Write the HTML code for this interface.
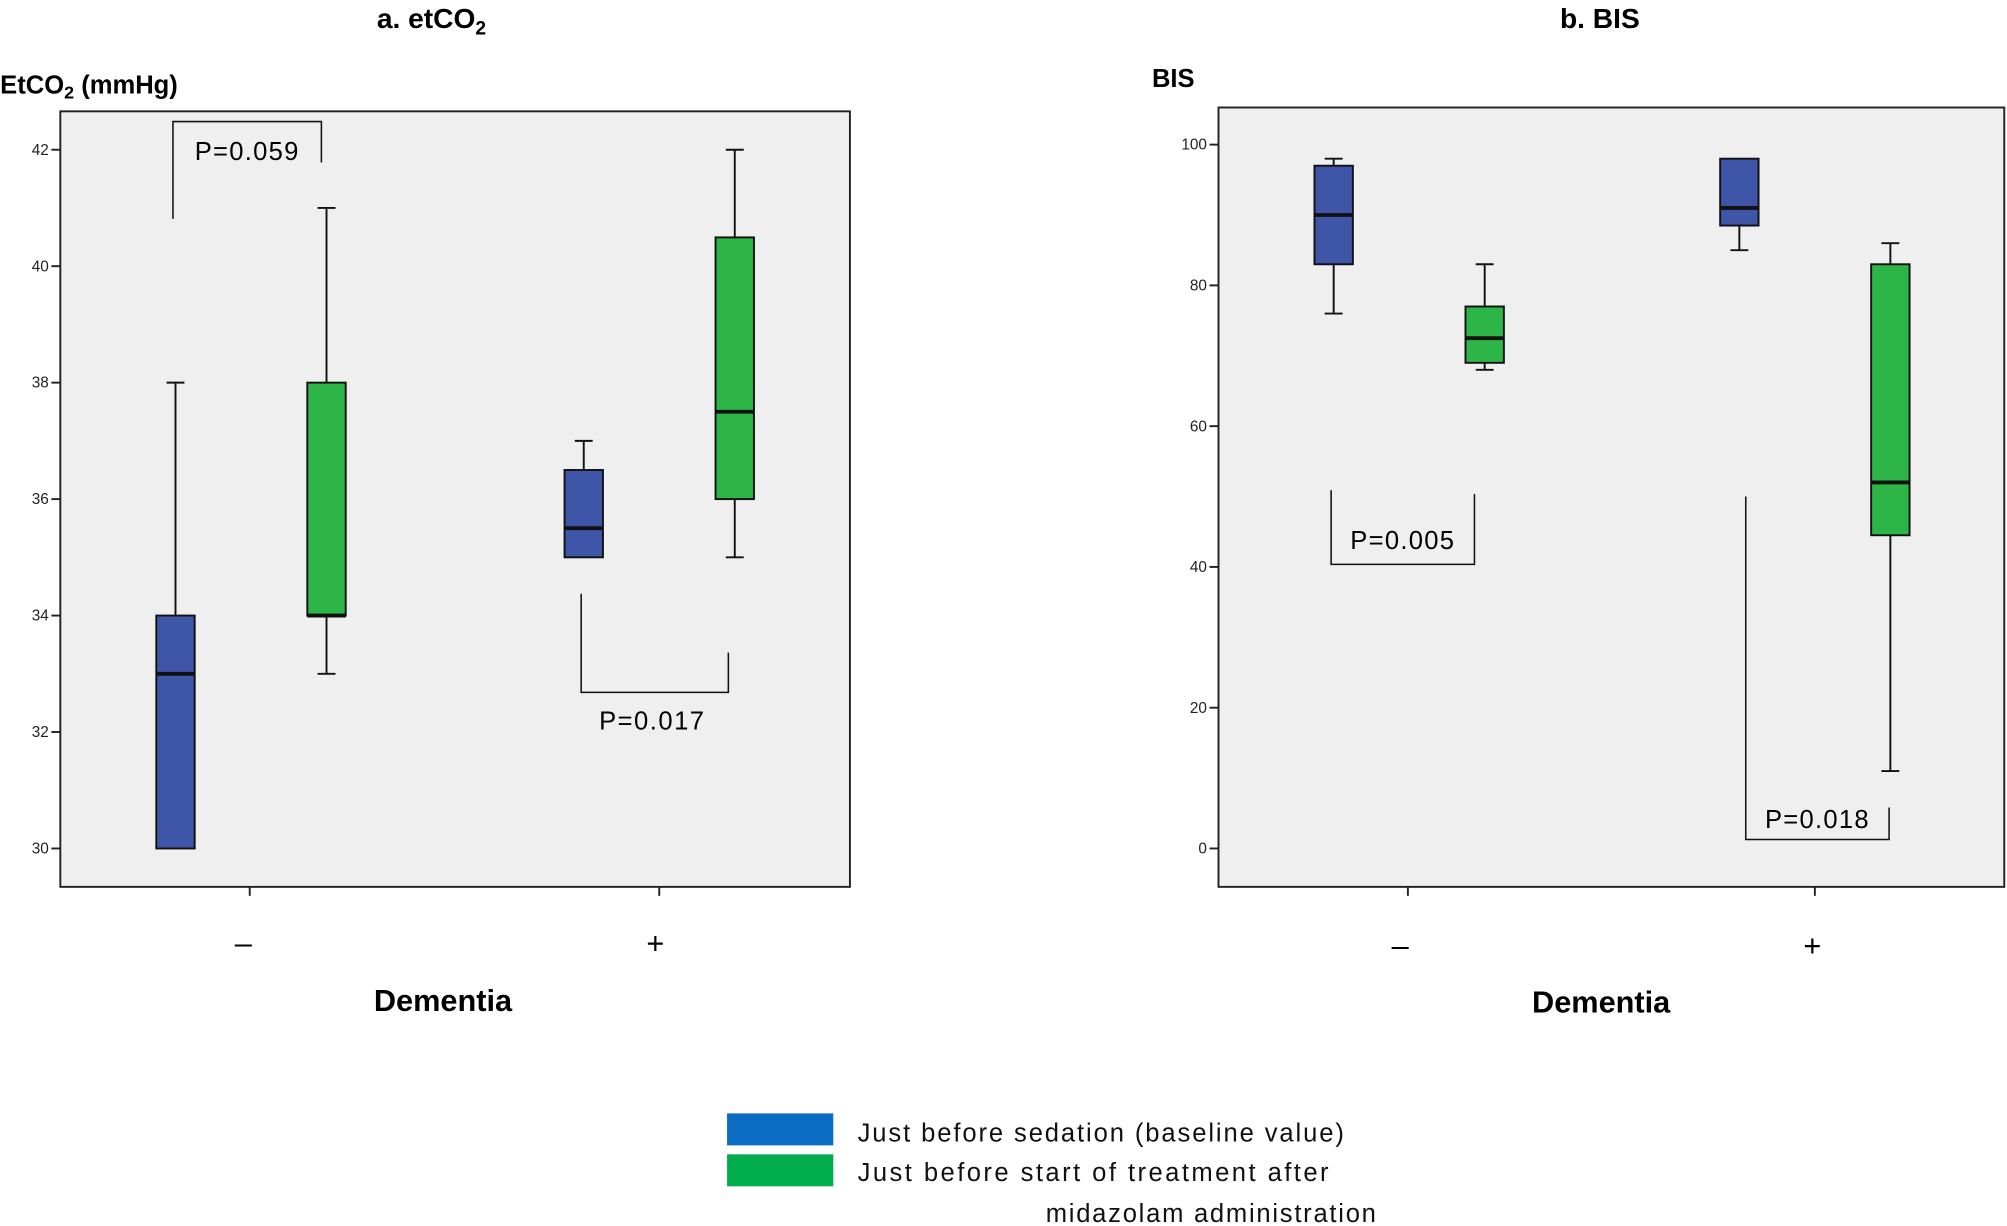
<!DOCTYPE html>
<html><head><meta charset="utf-8"><style>body{margin:0;background:#fff}svg{display:block}</style></head><body>
<svg width="2007" height="1226" viewBox="0 0 1568 958" xmlns="http://www.w3.org/2000/svg" font-family="Liberation Sans, sans-serif">
<rect width="1568" height="958" fill="#fff"/>
<text x="337" y="22" font-size="22" font-weight="bold" text-anchor="middle">a. etCO<tspan font-size="15" dy="5">2</tspan></text>
<text x="1250" y="22" font-size="22" font-weight="bold" text-anchor="middle">b. BIS</text>
<text x="0" y="73" font-size="20" font-weight="bold">EtCO<tspan font-size="14" dy="4">2</tspan><tspan dy="-4"> (mmHg)</tspan></text>
<text x="900" y="68" font-size="20" font-weight="bold">BIS</text>
<!-- Left plot -->
<rect x="47" y="87" width="617" height="606" fill="#efefef" stroke="#222" stroke-width="1.5"/>
<g font-size="12" text-anchor="end" fill="#222">
<text x="38" y="121">42</text><text x="38" y="212">40</text><text x="38" y="303">38</text><text x="38" y="394">36</text><text x="38" y="485">34</text><text x="38" y="576">32</text><text x="38" y="667">30</text></g>
<g stroke="#222" stroke-width="1.5"><line x1="40" y1="117" x2="47" y2="117"/><line x1="40" y1="208" x2="47" y2="208"/><line x1="40" y1="299" x2="47" y2="299"/><line x1="40" y1="390" x2="47" y2="390"/><line x1="40" y1="481" x2="47" y2="481"/><line x1="40" y1="572" x2="47" y2="572"/><line x1="40" y1="663" x2="47" y2="663"/>
<line x1="195" y1="693" x2="195" y2="700"/><line x1="515" y1="693" x2="515" y2="700"/></g>
<g stroke="#111" stroke-width="1.5">
<line x1="137" y1="299" x2="137" y2="663"/><line x1="130" y1="299" x2="144" y2="299"/>
<rect x="122" y="481" width="30" height="182" fill="#3e55a8"/><line x1="122" y1="526.5" x2="152" y2="526.5" stroke-width="3"/>
<line x1="255" y1="162.5" x2="255" y2="526.5"/><line x1="248" y1="162.5" x2="262" y2="162.5"/><line x1="248" y1="526.5" x2="262" y2="526.5"/>
<rect x="240" y="299" width="30" height="182" fill="#2eb548"/><line x1="240" y1="481" x2="270" y2="481" stroke-width="3"/>
<line x1="456" y1="344.5" x2="456" y2="435.5"/><line x1="449" y1="344.5" x2="463" y2="344.5"/>
<rect x="441" y="367.25" width="30" height="68.25" fill="#3e55a8"/><line x1="441" y1="412.75" x2="471" y2="412.75" stroke-width="3"/>
<line x1="574" y1="117" x2="574" y2="435.5"/><line x1="567" y1="117" x2="581" y2="117"/><line x1="567" y1="435.5" x2="581" y2="435.5"/>
<rect x="559" y="185.5" width="30" height="204.5" fill="#2eb548"/><line x1="559" y1="321.75" x2="589" y2="321.75" stroke-width="3"/>
<polyline points="135,171 135,95 251,95 251,127" fill="none" stroke-width="1.2"/>
<polyline points="454,464 454,541 569,541 569,510" fill="none" stroke-width="1.2"/>
</g>
<text x="152" y="125" font-size="20" textLength="81">P=0.059</text>
<text x="468" y="570" font-size="20" textLength="82">P=0.017</text>
<text x="190" y="745" font-size="24" text-anchor="middle">–</text>
<text x="512" y="745" font-size="24" text-anchor="middle">+</text>
<text x="346" y="790" font-size="24" font-weight="bold" text-anchor="middle">Dementia</text>
<!-- Right plot -->
<rect x="952" y="84" width="614" height="609" fill="#efefef" stroke="#222" stroke-width="1.5"/>
<g font-size="12" text-anchor="end" fill="#222">
<text x="943" y="117">100</text><text x="943" y="227">80</text><text x="943" y="337">60</text><text x="943" y="447">40</text><text x="943" y="557">20</text><text x="943" y="667">0</text></g>
<g stroke="#222" stroke-width="1.5"><line x1="945" y1="113" x2="952" y2="113"/><line x1="945" y1="223" x2="952" y2="223"/><line x1="945" y1="333" x2="952" y2="333"/><line x1="945" y1="443" x2="952" y2="443"/><line x1="945" y1="553" x2="952" y2="553"/><line x1="945" y1="663" x2="952" y2="663"/>
<line x1="1100" y1="693" x2="1100" y2="700"/><line x1="1418" y1="693" x2="1418" y2="700"/></g>
<g stroke="#111" stroke-width="1.5">
<line x1="1042" y1="124" x2="1042" y2="245"/><line x1="1035" y1="124" x2="1049" y2="124"/><line x1="1035" y1="245" x2="1049" y2="245"/>
<rect x="1027" y="129.5" width="30" height="77" fill="#3e55a8"/><line x1="1027" y1="168" x2="1057" y2="168" stroke-width="3"/>
<line x1="1160" y1="206.5" x2="1160" y2="289"/><line x1="1153" y1="206.5" x2="1167" y2="206.5"/><line x1="1153" y1="289" x2="1167" y2="289"/>
<rect x="1145" y="239.5" width="30" height="44" fill="#2eb548"/><line x1="1145" y1="264.25" x2="1175" y2="264.25" stroke-width="3"/>
<line x1="1359" y1="124" x2="1359" y2="195.5"/><line x1="1352" y1="195.5" x2="1366" y2="195.5"/>
<rect x="1344" y="124" width="30" height="52.25" fill="#3e55a8"/><line x1="1344" y1="162.5" x2="1374" y2="162.5" stroke-width="3"/>
<line x1="1477" y1="190" x2="1477" y2="602.5"/><line x1="1470" y1="190" x2="1484" y2="190"/><line x1="1470" y1="602.5" x2="1484" y2="602.5"/>
<rect x="1462" y="206.5" width="30" height="211.75" fill="#2eb548"/><line x1="1462" y1="377" x2="1492" y2="377" stroke-width="3"/>
<polyline points="1040,383 1040,441 1152,441 1152,386" fill="none" stroke-width="1.2"/>
<polyline points="1364,388 1364,656 1476,656 1476,631" fill="none" stroke-width="1.2"/>
</g>
<text x="1055" y="429" font-size="20" textLength="81">P=0.005</text>
<text x="1379" y="647" font-size="20" textLength="81">P=0.018</text>
<text x="1094" y="747" font-size="24" text-anchor="middle">–</text>
<text x="1416" y="747" font-size="24" text-anchor="middle">+</text>
<text x="1251" y="791" font-size="24" font-weight="bold" text-anchor="middle">Dementia</text>
<!-- Legend -->
<rect x="568" y="870" width="83" height="25" fill="#0b6cc4"/>
<rect x="568" y="902" width="83" height="25" fill="#00ad4c"/>
<g font-size="20" fill="#111">
<text x="670" y="892" textLength="380">Just before sedation (baseline value)</text>
<text x="670" y="923" textLength="368">Just before start of treatment after</text>
<text x="817" y="955" textLength="258">midazolam administration</text></g>
</svg>
</body></html>
